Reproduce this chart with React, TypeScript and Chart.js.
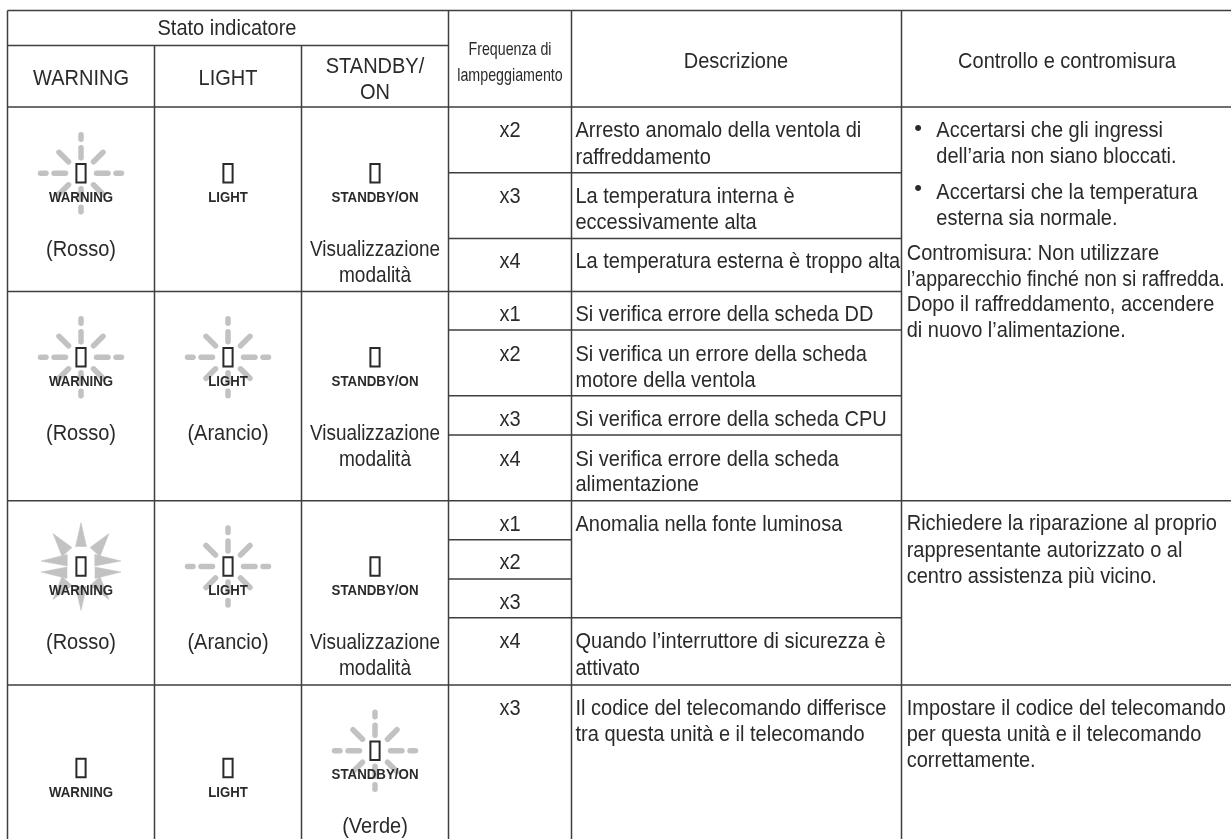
import React, { useEffect, useRef } from "react";
import { Chart, registerables } from "chart.js";

Chart.register(...registerables);

// ---------- table content ----------
const headerTitles = ["Stato indicatore", "Descrizione", "Controllo e contromisura"];
const indicatorNames = ["WARNING", "LIGHT", "STANDBY/ON"];
const indicatorHeaders = ["WARNING", "LIGHT", "STANDBY/", "ON"];
const frequencyHeader = ["Frequenza di", "lampeggiamento"];
const frequencyValues = ["x2", "x3", "x4", "x1", "x2", "x3", "x4", "x1", "x2", "x3", "x4", "x3"];
const descriptionLines = [
  "Arresto anomalo della ventola di",
  "raffreddamento",
  "La temperatura interna è",
  "eccessivamente alta",
  "La temperatura esterna è troppo alta",
  "Si verifica errore della scheda DD",
  "Si verifica un errore della scheda",
  "motore della ventola",
  "Si verifica errore della scheda CPU",
  "Si verifica errore della scheda",
  "alimentazione",
  "Anomalia nella fonte luminosa",
  "Quando l’interruttore di sicurezza è",
  "attivato",
  "Il codice del telecomando differisce",
  "tra questa unità e il telecomando",
];
const bulletLines = [
  "Accertarsi che gli ingressi",
  "dell’aria non siano bloccati.",
  "Accertarsi che la temperatura",
  "esterna sia normale.",
];
const actionLines = [
  "Contromisura: Non utilizzare",
  "l’apparecchio finché non si raffredda.",
  "Dopo il raffreddamento, accendere",
  "di nuovo l’alimentazione.",
  "Richiedere la riparazione al proprio",
  "rappresentante autorizzato o al",
  "centro assistenza più vicino.",
  "Impostare il codice del telecomando",
  "per questa unità e il telecomando",
  "correttamente.",
];
const colourRed = "(Rosso)";
const colourOrange = "(Arancio)";
const colourGreen = "(Verde)";
const modeLines = ["Visualizzazione", "modalità"];

// state of each indicator per table row: 0 steady, 1 flashing, 2 lit
const indicatorStates = [
  [1, 0, 0],
  [1, 1, 0],
  [2, 1, 0],
  [0, 0, 1],
];

// ---------- table geometry, in table units ----------
const colEdges = [7.5, 154.5, 301.5, 448.5, 571.5, 901.5, 1231];
const colCentres = [81, 228, 375, 510, 736, 1067];
const tableTop = 10.5;
const tableBottom = 839;
const fullRules = [tableTop, 107, 500.7, 685];
const leftRules = [291.5];
const indicatorSplit = 45.5;
const descriptionRules = [172.7, 238.4, 330, 395.7, 435, 617.7];
const frequencyRules = [539.7, 579];

const freqBaselines = [137.7, 203.3, 268, 321.7, 361, 426.7, 466, 531, 569.5, 609, 648.3, 715.7];
const descBaselines = [137.7, 164, 203.3, 229.5, 268, 321.7, 361, 387, 426.7, 466, 491.7, 531, 648.3, 675, 715.7, 741.7];
const bulletBaselines = [137, 163, 199, 225];
const actionBaselines = [260.5, 286.5, 311.7, 337.7, 530.7, 557, 583.3, 715, 741, 767.3];
const ledY = [
  [173.3, 173.3, 173.3],
  [357.3, 357.3, 357.3],
  [566.5, 566.5, 566.5],
  [768, 768, 750.7],
];
const colourBaselines = [256.7, 440.7, 649];

// glyph outlines, relative to an indicator's centre
const led = [[-4.6, -9.2], [4.6, -9.2], [4.6, 9.2], [-4.6, 9.2], [-4.6, -9.2]];
const flashRays = [
  [[0, -25.5], [0, -15.5]], [[0, -38.5], [0, -34]],
  [[0, 15.5], [0, 25.5]], [[0, 34], [0, 38.5]],
  [[-27, 0], [-15.5, 0]], [[-40.5, 0], [-35, 0]],
  [[15.5, 0], [27, 0]], [[35, 0], [40.5, 0]],
  [[-22, -21], [-12.5, -11.5]], [[22, -21], [12.5, -11.5]],
  [[-22, 21], [-12.5, 11.5]], [[22, 21], [12.5, 11.5]],
];
const litRays = [
  [[0, -44], [-5.5, -20], [5.5, -20]],
  [[0, 44], [-5.5, 20], [5.5, 20]],
  [[-28, -33], [-19, -10], [-9, -19]],
  [[28, -33], [19, -10], [9, -19]],
  [[-28, 33], [-19, 10], [-9, 19]],
  [[28, 33], [19, 10], [9, 19]],
  [[-40, -5.5], [-14, -12], [-14, -0.5]],
  [[-40, 5.5], [-14, 12], [-14, 0.5]],
  [[40, -5.5], [14, -12], [14, -0.5]],
  [[40, 5.5], [14, 12], [14, 0.5]],
];

const INK = "#2b2a2a";
const RULE = "#3f3f3f";
const RAY = "#c2c2c2";
const FONT = '"Liberation Sans", Arial, sans-serif';
const BODY_SIZE = 22;
const BODY_STRETCH = 20 / 22;
const BASELINE_NUDGE = -0.5;

type Label = { t: string; x: number; y: number; c?: boolean; size?: number; bold?: boolean; w?: number; sx?: number };

function buildLabels(): Label[] {
  const out: Label[] = [];
  const [c0, c1, c2, c3, c4, c5] = colCentres;
  out.push({ t: headerTitles[0], x: 227, y: 35, c: true });
  out.push({ t: headerTitles[1], x: c4, y: 68.3, c: true });
  out.push({ t: headerTitles[2], x: c5, y: 68.3, c: true });
  out.push({ t: indicatorHeaders[0], x: c0, y: 85, c: true });
  out.push({ t: indicatorHeaders[1], x: c1, y: 85, c: true });
  out.push({ t: indicatorHeaders[2], x: c2, y: 73, c: true });
  out.push({ t: indicatorHeaders[3], x: c2, y: 99, c: true });
  out.push({ t: frequencyHeader[0], x: c3, y: 55, c: true, size: 19, w: 83 });
  out.push({ t: frequencyHeader[1], x: c3, y: 81, c: true, size: 19, w: 105.5 });
  frequencyValues.forEach((t, i) => out.push({ t, x: c3, y: freqBaselines[i], c: true }));
  descriptionLines.forEach((t, i) => out.push({ t, x: 575.5, y: descBaselines[i] }));
  bulletLines.forEach((t, i) => out.push({ t, x: 936.3, y: bulletBaselines[i] }));
  out.push({ t: "•", x: 918, y: 135.5, c: true, sx: 1 });
  out.push({ t: "•", x: 918, y: 195.5, c: true, sx: 1 });
  actionLines.forEach((t, i) =>
    out.push({ t, x: 906.7, y: actionBaselines[i], w: i === 1 ? 318 : undefined })
  );
  indicatorStates.forEach((_, r) =>
    indicatorNames.forEach((t, col) =>
      out.push({ t, x: colCentres[col], y: ledY[r][col] + 29.2, c: true, size: 14, bold: true, w: [64, 39.5, 87][col] })
    )
  );
  colourBaselines.forEach((y) => out.push({ t: colourRed, x: c0, y, c: true }));
  out.push({ t: colourOrange, x: c1, y: colourBaselines[1], c: true });
  out.push({ t: colourOrange, x: c1, y: colourBaselines[2], c: true });
  out.push({ t: colourGreen, x: c2, y: 833, c: true });
  colourBaselines.forEach((y) => {
    out.push({ t: modeLines[0], x: c2, y, c: true, w: 130 });
    out.push({ t: modeLines[1], x: c2, y: y + 26, c: true, w: 72 });
  });
  return out;
}

const GAP = { x: NaN, y: NaN };

function ruleData() {
  const pts: any[] = [];
  const seg = (x0: number, y0: number, x1: number, y1: number) =>
    pts.push({ x: x0, y: y0 }, { x: x1, y: y1 }, GAP);
  const right = colEdges[6];
  fullRules.forEach((y) => seg(colEdges[0], y, right, y));
  leftRules.forEach((y) => seg(colEdges[0], y, colEdges[5], y));
  seg(colEdges[0], indicatorSplit, colEdges[3], indicatorSplit);
  descriptionRules.forEach((y) => seg(colEdges[3], y, colEdges[5], y));
  frequencyRules.forEach((y) => seg(colEdges[3], y, colEdges[4], y));
  seg(colEdges[0], tableTop, colEdges[0], tableBottom);
  seg(colEdges[1], indicatorSplit, colEdges[1], tableBottom);
  seg(colEdges[2], indicatorSplit, colEdges[2], tableBottom);
  seg(colEdges[3], tableTop, colEdges[3], tableBottom);
  seg(colEdges[4], tableTop, colEdges[4], tableBottom);
  seg(colEdges[5], tableTop, colEdges[5], tableBottom);
  return pts;
}

const base = { pointRadius: 0, borderJoinStyle: "miter", clip: false, tension: 0 };

function datasets() {
  const ds: any[] = [
    { ...base, data: ruleData(), borderColor: RULE, borderWidth: 1.5, fill: false },
  ];
  const flash: any[] = [];
  const leds: any[] = [];
  indicatorStates.forEach((row, r) =>
    row.forEach((state, col) => {
      const cx = colCentres[col];
      const cy = ledY[r][col];
      if (state === 1) {
        flashRays.forEach((ray) => {
          ray.forEach(([dx, dy]) => flash.push({ x: cx + dx, y: cy + dy }));
          flash.push(GAP);
        });
      }
      if (state === 2) {
        litRays.forEach((tri) => {
          const data = [...tri, tri[0]].map(([dx, dy]) => ({ x: cx + dx, y: cy + dy }));
          ds.push({ ...base, data, borderColor: RAY, backgroundColor: RAY, borderWidth: 0.5, fill: "shape" });
        });
      }
      led.forEach(([dx, dy]) => leds.push({ x: cx + dx, y: cy + dy }));
      leds.push(GAP);
    })
  );
  ds.push({ ...base, data: flash, borderColor: RAY, borderWidth: 5.5, borderCapStyle: "round", fill: false });
  ds.push({ ...base, data: leds, borderColor: INK, borderWidth: 2, borderCapStyle: "square", fill: false });
  return ds;
}

const tableText = {
  id: "tableText",
  afterDatasetsDraw(chart: any) {
    const { ctx, scales } = chart;
    ctx.save();
    ctx.fillStyle = INK;
    ctx.textBaseline = "alphabetic";
    buildLabels().forEach((l) => {
      const px = scales.x.getPixelForValue(l.x);
      const py = scales.y.getPixelForValue(l.y + BASELINE_NUDGE);
      ctx.font = `${l.bold ? "bold " : ""}${l.size ?? BODY_SIZE}px ${FONT}`;
      ctx.textAlign = l.c ? "center" : "left";
      const sx = l.w ? l.w / ctx.measureText(l.t).width : l.sx ?? BODY_STRETCH;
      ctx.save();
      ctx.translate(px, py);
      ctx.scale(sx, 1);
      ctx.fillText(l.t, 0, 0);
      ctx.restore();
    });
    ctx.restore();
  },
};

export default function App() {
  const ref = useRef<HTMLCanvasElement>(null);
  useEffect(() => {
    document.body.style.margin = "0";
    const chart = new Chart(ref.current!, {
      type: "line",
      data: { datasets: datasets() },
      options: {
        animation: false,
        responsive: false,
        events: [],
        layout: { padding: 0 },
        spanGaps: false,
        scales: {
          x: { type: "linear", min: 0, max: 1231, display: false },
          y: { type: "linear", min: 0, max: 839, reverse: true, display: false },
        },
        plugins: { legend: { display: false }, tooltip: { enabled: false }, title: { display: false } },
      },
      plugins: [tableText],
    } as any);
    return () => chart.destroy();
  }, []);
  return <canvas ref={ref} width={1231} height={839} style={{ display: "block", background: "#fff" }} />;
}
